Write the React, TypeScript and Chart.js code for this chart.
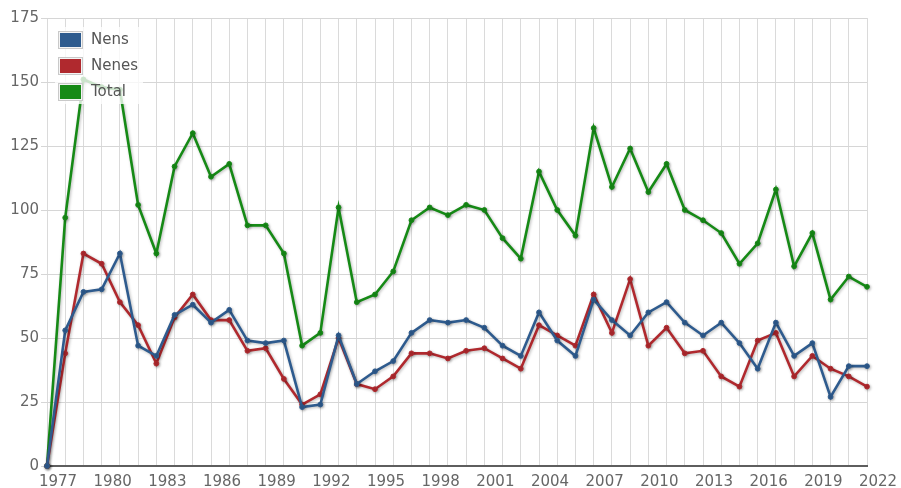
import React, { useEffect, useRef } from "react";
import { Chart, registerables } from "chart.js";
Chart.register(...registerables);

const years = [
  "1977", "1978", "1979", "1980", "1981", "1982", "1983", "1984", "1985", "1986",
  "1987", "1988", "1989", "1990", "1991", "1992", "1993", "1994", "1995", "1996",
  "1997", "1998", "1999", "2000", "2001", "2002", "2003", "2004", "2005", "2006",
  "2007", "2008", "2009", "2010", "2011", "2012", "2013", "2014", "2015", "2016",
  "2017", "2018", "2019", "2020", "2021", "2022",
];

const nens = [
  0, 53, 68, 69, 83, 47, 43, 59, 63, 56, 61, 49, 48, 49, 23, 24, 51, 32, 37, 41,
  52, 57, 56, 57, 54, 47, 43, 60, 49, 43, 65, 57, 51, 60, 64, 56, 51, 56, 48, 38,
  56, 43, 48, 27, 39, 39,
];

const nenes = [
  0, 44, 83, 79, 64, 55, 40, 58, 67, 57, 57, 45, 46, 34, 24, 28, 50, 32, 30, 35,
  44, 44, 42, 45, 46, 42, 38, 55, 51, 47, 67, 52, 73, 47, 54, 44, 45, 35, 31, 49,
  52, 35, 43, 38, 35, 31,
];

const total = [
  0, 97, 151, 148, 147, 102, 83, 117, 130, 113, 118, 94, 94, 83, 47, 52, 101, 64, 67, 76,
  96, 101, 98, 102, 100, 89, 81, 115, 100, 90, 132, 109, 124, 107, 118, 100, 96, 91, 79, 87,
  108, 78, 91, 65, 74, 70,
];

const seriesNames = ["Nens", "Nenes", "Total"];
const seriesColors = ["#2e5b8e", "#b0292e", "#168a16"];

const FONT = '"DejaVu Sans", Verdana, sans-serif';

export default function App() {
  const ref = useRef<HTMLCanvasElement>(null);

  useEffect(() => {
    if (!ref.current) return;

    const shadowPlugin = {
      id: "lineShadow",
      beforeDatasetsDraw(chart: any) {
        const ctx = chart.ctx;
        ctx.save();
        ctx.shadowColor = "rgba(0,0,0,0.28)";
        ctx.shadowBlur = 3;
        ctx.shadowOffsetX = 1;
        ctx.shadowOffsetY = 1;
      },
      afterDatasetsDraw(chart: any) {
        chart.ctx.restore();
      },
    };

    const legendPlugin = {
      id: "insideLegend",
      afterDraw(chart: any) {
        const ctx = chart.ctx;
        const left = chart.chartArea.left + 8;
        const top = chart.chartArea.top + 9;
        ctx.save();
        ctx.fillStyle = "rgba(255,255,255,0.78)";
        ctx.fillRect(left, top, 88, 77);
        chart.data.datasets.forEach((ds: any, i: number) => {
          const y = top + 4 + i * 26;
          ctx.fillStyle = "#f4f4f4";
          ctx.fillRect(left + 3, y, 25, 18);
          ctx.strokeStyle = "#c9c9c9";
          ctx.lineWidth = 1;
          ctx.strokeRect(left + 3.5, y + 0.5, 24, 17);
          ctx.fillStyle = ds.borderColor;
          ctx.fillRect(left + 5, y + 2, 21, 14);
          ctx.fillStyle = "#555";
          ctx.font = `15px ${FONT}`;
          ctx.textBaseline = "middle";
          ctx.textAlign = "left";
          ctx.fillText(ds.label, left + 36, y + 9);
        });
        ctx.restore();
      },
    };

    const seriesData = [nens, nenes, total];
    const chart = new Chart(ref.current, {
      type: "line",
      data: {
        labels: years,
        datasets: seriesData.map((d, i) => ({
          label: seriesNames[i],
          data: d,
          borderColor: seriesColors[i],
          backgroundColor: seriesColors[i],
          pointBackgroundColor: seriesColors[i],
          pointBorderColor: seriesColors[i],
          borderWidth: 2.6,
          pointRadius: 2.4,
          pointBorderWidth: 1,
          tension: 0,
          fill: false,
          clip: false as any,
        })),
      },
      options: {
        animation: false,
        responsive: true,
        maintainAspectRatio: false,
        layout: { padding: { left: 0, top: 18, right: 34, bottom: 0 } },
        plugins: {
          legend: { display: false },
          tooltip: { enabled: false },
        },
        scales: {
          x: {
            type: "category",
            offset: false,
            afterFit(scale: any) {
              scale.height = 22;
            },
            grid: {
              color: "#dadada",
              lineWidth: 1,
              drawTicks: false,
            },
            border: { color: "#5e5e5e", width: 2 },
            ticks: {
              autoSkip: false,
              maxRotation: 0,
              minRotation: 0,
              padding: 7,
              labelOffset: 11,
              color: "#666",
              font: { family: FONT, size: 15 },
              callback: (_v: any, idx: number) => (idx % 3 === 0 ? years[idx] : ""),
            },
          },
          y: {
            min: 0,
            max: 175,
            afterFit(scale: any) {
              scale.width = 47;
            },
            grid: {
              color: "#d6d6d6",
              lineWidth: 1,
              tickLength: 6,
            },
            border: { display: false },
            ticks: {
              stepSize: 25,
              padding: 2,
              color: "#666",
              font: { family: FONT, size: 15 },
            },
          },
        },
      },
      plugins: [shadowPlugin, legendPlugin],
    });

    return () => chart.destroy();
  }, []);

  return (
    <div style={{ position: "fixed", left: 0, top: 0, width: 901, height: 488, background: "#fff" }}>
      <canvas ref={ref} />
    </div>
  );
}
